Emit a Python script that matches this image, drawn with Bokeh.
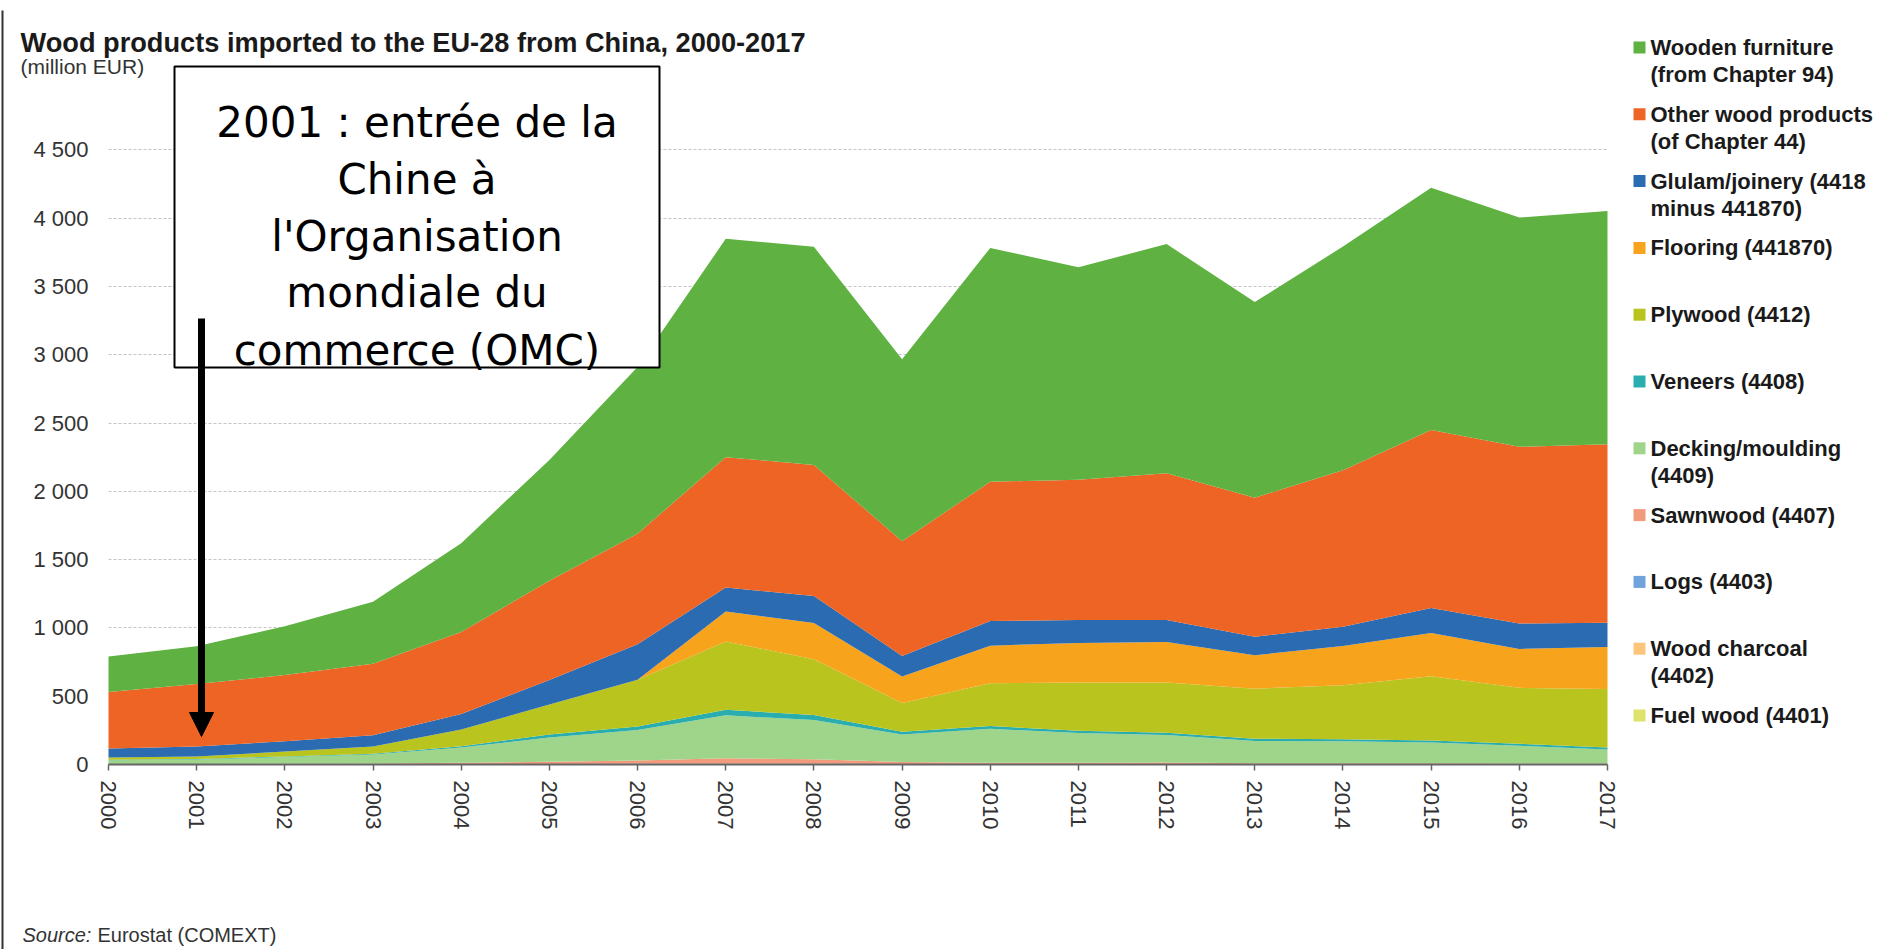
from bokeh.plotting import figure
from bokeh.models import ColumnDataSource, FixedTicker, Range1d, Label, Arrow, NormalHead, Grid
from bokeh.embed import file_html
from bokeh.resources import INLINE
from bokeh.core.properties import value

# ---------------- data (million EUR) ----------------
years = list(range(2000, 2018))

fuel_wood     = [0, 0, 0, 0, 1, 1, 1, 1, 1, 1, 1, 1, 1, 1, 1, 1, 1, 1]
wood_charcoal = [1, 1, 1, 1, 2, 2, 3, 3, 3, 2, 2, 2, 2, 2, 2, 2, 2, 2]
logs          = [0, 0, 0, 0, 0, 1, 1, 1, 1, 0, 0, 0, 0, 0, 0, 0, 0, 0]
sawnwood      = [3, 3, 4, 6, 9, 16, 25, 40, 33, 15, 10, 9, 12, 7, 6, 6, 5, 4]
decking       = [28, 33, 49, 66, 112, 178, 223, 315, 287, 201, 248, 218, 201, 162, 161, 152, 129, 102]
veneers       = [3, 4, 5, 6, 10, 22, 25, 40, 37, 20, 20, 17, 17, 17, 15, 15, 15, 15]
plywood       = [16, 18, 36, 53, 122, 219, 342, 500, 408, 211, 314, 353, 367, 366, 395, 470, 409, 428]
flooring      = [0, 0, 0, 0, 0, 0, 0, 220, 265, 195, 275, 290, 297, 245, 288, 316, 285, 308]
glulam        = [66, 73, 75, 82, 114, 179, 260, 175, 199, 150, 180, 167, 160, 135, 140, 183, 186, 178]
other_wood    = [413, 458, 485, 524, 600, 727, 810, 955, 959, 840, 1020, 1028, 1075, 1018, 1147, 1303, 1294, 1306]
furniture     = [260, 275, 357, 454, 650, 885, 1220, 1598, 1597, 1331, 1712, 1555, 1678, 1432, 1637, 1774, 1678, 1708]

# stacking order: bottom -> top
stack_keys = ["fuel_wood", "wood_charcoal", "logs", "sawnwood", "decking", "veneers",
              "plywood", "flooring", "glulam", "other_wood", "furniture"]
stack_colors = ["#dde36c", "#fbc57a", "#6ea3dc", "#f29a7c", "#9fd48b", "#2aadae",
                "#b9c41f", "#f8a31c", "#2a6bb1", "#ee6424", "#5fb241"]

# legend (top -> bottom)
legend_labels = [
    ["Wooden furniture", "(from Chapter 94)"],
    ["Other wood products", "(of Chapter 44)"],
    ["Glulam/joinery (4418", "minus 441870)"],
    ["Flooring (441870)"],
    ["Plywood (4412)"],
    ["Veneers (4408)"],
    ["Decking/moulding", "(4409)"],
    ["Sawnwood (4407)"],
    ["Logs (4403)"],
    ["Wood charcoal", "(4402)"],
    ["Fuel wood (4401)"],
]
legend_colors = list(reversed(stack_colors))

y_ticks = [0, 500, 1000, 1500, 2000, 2500, 3000, 3500, 4000, 4500]
y_tick_labels = ["0", "500", "1 000", "1 500", "2 000", "2 500", "3 000", "3 500", "4 000", "4 500"]

title_text = "Wood products imported to the EU-28 from China, 2000-2017"
subtitle_text = "(million EUR)"
note_lines = ["2001 : entrée de la", "Chine à", "l'Organisation", "mondiale du", "commerce (OMC)"]

FONT = "Liberation Sans"

# ---------------- geometry (pixels) ----------------
W, H = 1880, 949
X0_PX, PX_PER_YEAR = 108.0, (1607.0 - 108.0) / 17.0   # year 2000 at x=108, 2017 at x=1607
Y0_PX, PX_PER_UNIT = 764.0, 614.7 / 4500.0            # value 0 at y=764, 4500 at y=149.3


def fx(px):
    return 2000 + (px - X0_PX) / PX_PER_YEAR


def fy(py):
    return (Y0_PX - py) / PX_PER_UNIT


source = ColumnDataSource(dict(
    year=years, fuel_wood=fuel_wood, wood_charcoal=wood_charcoal, logs=logs,
    sawnwood=sawnwood, decking=decking, veneers=veneers, plywood=plywood,
    flooring=flooring, glulam=glulam, other_wood=other_wood, furniture=furniture))

p = figure(width=W, height=H, title=None,
           x_range=Range1d(fx(0), fx(W)), y_range=Range1d(fy(H), fy(0)),
           output_backend="svg", toolbar_location=None, min_border=0)
p.outline_line_color = None
p.background_fill_color = "white"

# gridlines limited to the plotting span 2000-2017
use_cross = "cross_bounds" in Grid.properties()
if use_cross:
    p.ygrid.cross_bounds = (2000, 2017)
    p.ygrid.grid_line_color = "#c4c4c4"
    p.ygrid.grid_line_dash = "3 2"
    p.ygrid.grid_line_width = 1
else:
    p.ygrid.visible = False
    p.segment(x0=[2000] * len(y_ticks[1:]), x1=[2017] * len(y_ticks[1:]),
              y0=y_ticks[1:], y1=y_ticks[1:], line_color="#c4c4c4",
              line_dash="3 2", line_width=1)
p.xgrid.visible = False

p.varea_stack(stackers=stack_keys, x="year", color=stack_colors, source=source)

# axes drawn at fixed data locations
p.xaxis.fixed_location = 0
p.xaxis.bounds = (2000, 2017)
p.xaxis.ticker = FixedTicker(ticks=years)
p.xaxis.major_label_overrides = {y: str(y) for y in years}
p.xaxis.major_label_orientation = "vertical"
p.xaxis.major_label_text_font = FONT
p.xaxis.major_label_text_font_size = "22px"
p.xaxis.major_label_text_color = "#333333"
p.xaxis.axis_line_color = "#666666"
p.xaxis.axis_line_width = 2
p.xaxis.major_tick_line_color = "#666666"
p.xaxis.major_tick_line_width = 1.5
p.xaxis.major_tick_out = 6
p.xaxis.major_tick_in = 0
p.xaxis.minor_tick_line_color = None
p.xaxis.major_label_standoff = 10

p.yaxis.fixed_location = 2000
p.yaxis.bounds = (0, 4500)
p.yaxis.ticker = FixedTicker(ticks=y_ticks)
p.yaxis.major_label_overrides = dict(zip(y_ticks, y_tick_labels))
p.yaxis.major_label_text_font = FONT
p.yaxis.major_label_text_font_size = "22px"
p.yaxis.major_label_text_color = "#333333"
p.yaxis.axis_line_color = None
p.yaxis.major_tick_line_color = None
p.yaxis.minor_tick_line_color = None
p.yaxis.major_tick_out = 0
p.yaxis.major_tick_in = 0
p.yaxis.major_label_standoff = 20

# thin frame line at the left edge of the picture
p.segment(x0=[fx(2)], x1=[fx(2)], y0=[fy(10)], y1=[fy(H)], line_color="#333333", line_width=2)

# annotation box with text
p.quad(left=[fx(174)], right=[fx(659)], top=[fy(66)], bottom=[fy(367)],
       fill_color="white", line_color="black", line_width=2)
note_baselines = [121.5, 178.5, 235.5, 292.0, 349.5]
p.text(x=[fx(416.5)] * len(note_lines), y=[fy(b) for b in note_baselines], text=note_lines,
       text_font=value("DejaVu Sans"), text_font_size="42px",
       text_align="center", text_baseline="alphabetic", text_color="black")

p.add_layout(Arrow(end=NormalHead(size=24, fill_color="black", line_color="black"),
                   x_start=fx(201), y_start=fy(318), x_end=fx(201), y_end=fy(736),
                   line_width=7, line_color="black"))

# title / subtitle / source
p.add_layout(Label(x=20, y=H - 41.5, x_units="screen", y_units="screen", text=title_text,
                   text_font=FONT, text_font_size="27.2px", text_font_style="bold",
                   text_color="#1a1a1a", text_baseline="alphabetic"))
p.add_layout(Label(x=20, y=H - 66, x_units="screen", y_units="screen", text=subtitle_text,
                   text_font=FONT, text_font_size="21px",
                   text_color="#333333", text_baseline="alphabetic"))
p.add_layout(Label(x=22, y=H - 934, x_units="screen", y_units="screen", text="Source:",
                   text_font=FONT, text_font_size="20px", text_font_style="italic",
                   text_color="#333333", text_baseline="alphabetic"))
p.add_layout(Label(x=97, y=H - 934, x_units="screen", y_units="screen", text="Eurostat (COMEXT)",
                   text_font=FONT, text_font_size="20px",
                   text_color="#333333", text_baseline="alphabetic"))

# legend
item_py = [47 + 66.8 * i for i in range(len(legend_labels))]
p.scatter(x=[fx(1639)] * len(item_py), y=[fy(v) for v in item_py], marker="square", size=12,
          color=legend_colors, line_color=None)
tx, ty, tt = [], [], []
for yy, lines in zip(item_py, legend_labels):
    for j, ln in enumerate(lines):
        tx.append(fx(1650))
        ty.append(fy(yy + 27 * j))
        tt.append(ln)
p.text(x=tx, y=ty, text=tt, text_font=value(FONT), text_font_size="22px",
       text_font_style="bold", text_color="#1a1a1a", text_baseline="middle", text_align="left")

open("out.html", "w").write(file_html(p, INLINE))
